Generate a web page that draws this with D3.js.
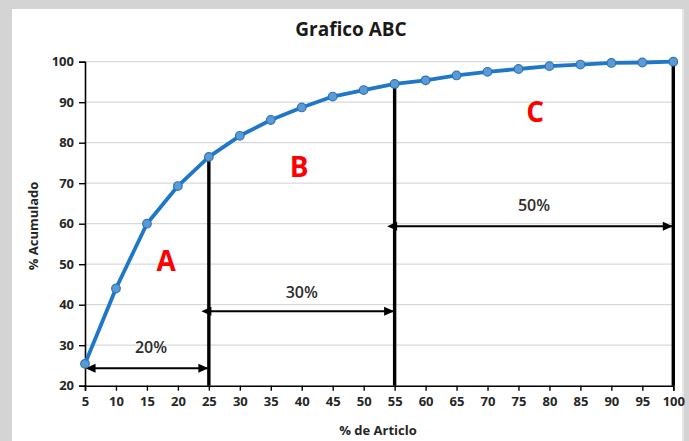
<!DOCTYPE html>
<html>
<head>
<meta charset="utf-8">
<script src="https://cdn.jsdelivr.net/npm/d3@7"></script>
<style>
  html, body { margin: 0; padding: 0; background: #d4d4d4; }
  svg { display: block; }
  text { font-family: "Open Sans", "Liberation Sans", sans-serif; }
</style>
</head>
<body>
<svg id="chart" width="689" height="441"></svg>
<script>
// Cumulative percentage of value by percentage of items
const articlePct = [5, 10, 15, 20, 25, 30, 35, 40, 45, 50, 55, 60, 65, 70, 75, 80, 85, 90, 95, 100];
const cumulativePct = [25.4, 44, 60, 69.3, 76.5, 81.7, 85.6, 88.7, 91.4, 93, 94.5, 95.4, 96.6, 97.5, 98.2, 98.9, 99.3, 99.7, 99.8, 100];

const xTicks = [5, 10, 15, 20, 25, 30, 35, 40, 45, 50, 55, 60, 65, 70, 75, 80, 85, 90, 95, 100];
const yTicks = [20, 30, 40, 50, 60, 70, 80, 90, 100];

// Class boundaries (x) and the spans between them
const boundaries = [25, 55, 100];
const spans = [
  { from: 6.3, to: 25, level: 24.3, label: "20%", labelLevel: 28.0 },
  { from: 25, to: 55, level: 38.4, label: "30%", labelLevel: 41.7 },
  { from: 55, to: 100, level: 59.4, label: "50%", labelLevel: 63.1 }
];
const classes = [
  { name: "A", x: 18.1, y: 48.3 },
  { name: "B", x: 39.6, y: 71.6 },
  { name: "C", x: 77.7, y: 85.2 }
];

const svg = d3.select("#chart");

// white chart panel on grey page
svg.append("rect").attr("x", 12).attr("y", 9).attr("width", 670).attr("height", 440)
  .attr("fill", "#ffffff");
svg.append("line").attr("x1", 683).attr("x2", 683).attr("y1", 9).attr("y2", 441)
  .attr("stroke", "#e6e6e6").attr("stroke-width", 2);

const x = d3.scaleLinear().domain([5, 100]).range([85, 673.3]);
const y = d3.scaleLinear().domain([20, 100]).range([385.7, 61.7]);

// horizontal gridlines
svg.append("g").selectAll("line").data(yTicks.filter(d => d > 20)).join("line")
  .attr("x1", x(5)).attr("x2", x(100))
  .attr("y1", d => y(d)).attr("y2", d => y(d))
  .attr("stroke", "#d9d9d9").attr("stroke-width", 1.2);

// axes
const yAxis = svg.append("g").attr("transform", `translate(${x(5)},0)`)
  .call(d3.axisLeft(y).tickValues(yTicks).tickSize(6).tickPadding(5));
const xAxis = svg.append("g").attr("transform", `translate(0,${y(20)})`)
  .call(d3.axisBottom(x).tickValues(xTicks).tickSize(5).tickPadding(6));
[yAxis, xAxis].forEach(g => {
  g.select(".domain").attr("stroke", "#000").attr("stroke-width", 1.6);
  g.selectAll(".tick line").attr("stroke", "#000").attr("stroke-width", 1.4);
  g.selectAll(".tick text").attr("fill", "#262626")
    .style("font-family", "'Open Sans', sans-serif")
    .style("font-size", "13px").style("font-weight", "700");
});

// class boundary verticals
svg.append("g").selectAll("line").data(boundaries).join("line")
  .attr("x1", d => x(d)).attr("x2", d => x(d))
  .attr("y1", y(20))
  .attr("y2", d => y(cumulativePct[articlePct.indexOf(d)]))
  .attr("stroke", "#000").attr("stroke-width", 3.4);

// arrowheads
const defs = svg.append("defs");
["start", "end"].forEach(k => {
  defs.append("marker").attr("id", "arrow-" + k)
    .attr("viewBox", "0 0 10 10").attr("refX", k === "end" ? 9 : 1).attr("refY", 5)
    .attr("markerWidth", 5.5).attr("markerHeight", 5).attr("markerUnits", "strokeWidth")
    .attr("orient", "auto-start-reverse")
    .append("path").attr("d", "M0,0.5 L10,5 L0,9.5 Z").attr("fill", "#000");
});

svg.append("g").selectAll("line").data(spans).join("line")
  .attr("x1", d => x(d.from) + 1.5).attr("x2", d => x(d.to) - 1.5)
  .attr("y1", d => y(d.level)).attr("y2", d => y(d.level))
  .attr("stroke", "#000").attr("stroke-width", 2)
  .attr("marker-start", "url(#arrow-start)").attr("marker-end", "url(#arrow-end)");

svg.append("g").selectAll("text").data(spans).join("text")
  .attr("x", d => x((d.from + d.to) / 2)).attr("y", d => y(d.labelLevel))
  .attr("text-anchor", "middle").attr("fill", "#2b2b2b")
  .style("font-size", "16px").style("font-weight", "600")
  .text(d => d.label);

// cumulative curve
const pts = articlePct.map((a, i) => [a, cumulativePct[i]]);
svg.append("path").datum(pts)
  .attr("fill", "none").attr("stroke", "#1f77c9").attr("stroke-width", 3.8)
  .attr("stroke-linejoin", "round")
  .attr("d", d3.line().x(d => x(d[0])).y(d => y(d[1])));

svg.append("g").selectAll("circle").data(pts).join("circle")
  .attr("cx", d => x(d[0])).attr("cy", d => y(d[1])).attr("r", 4.3)
  .attr("fill", "#5b9bd5").attr("stroke", "#2e75b6").attr("stroke-width", 1.2);

// class letters
svg.append("g").selectAll("text").data(classes).join("text")
  .attr("x", d => x(d.x)).attr("y", d => y(d.y))
  .attr("text-anchor", "middle").attr("fill", "#ff0000")
  .style("font-size", "28px").style("font-weight", "700")
  .text(d => d.name);

// titles
svg.append("text").attr("x", 351).attr("y", 36).attr("text-anchor", "middle")
  .attr("fill", "#1a1a1a").style("font-size", "19px").style("font-weight", "700")
  .text("Grafico ABC");
svg.append("text").attr("x", 378).attr("y", 435).attr("text-anchor", "middle")
  .attr("fill", "#262626").style("font-size", "13px").style("font-weight", "700")
  .text("% de Articlo");
svg.append("text").attr("transform", "translate(38,226) rotate(-90)")
  .attr("text-anchor", "middle")
  .attr("fill", "#262626").style("font-size", "13px").style("font-weight", "700")
  .text("% Acumulado");
</script>
</body>
</html>
